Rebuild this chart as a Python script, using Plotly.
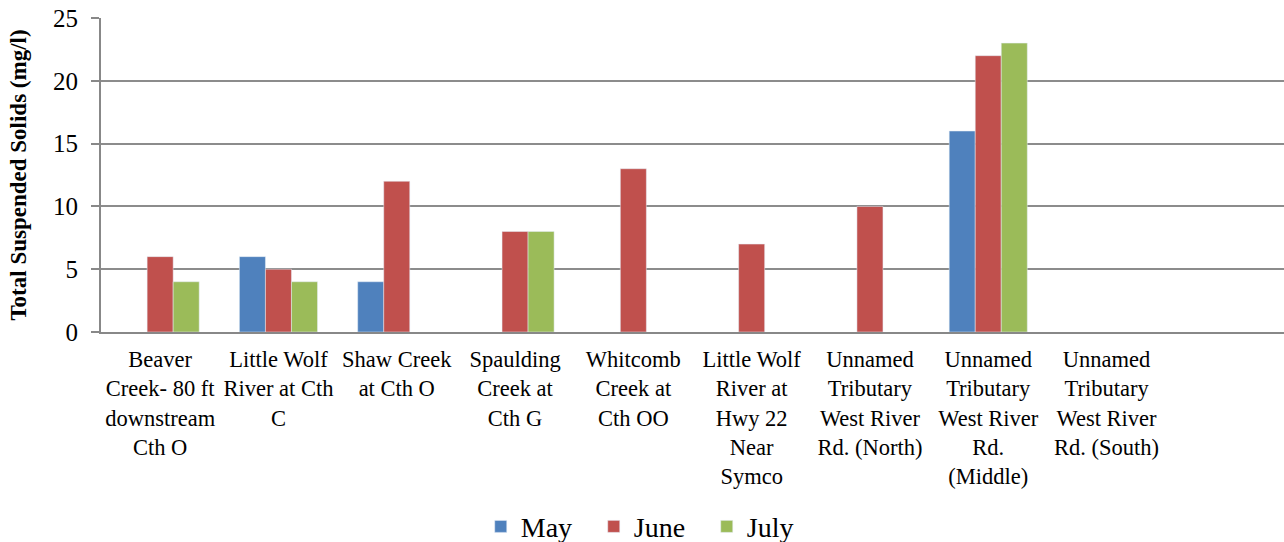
import plotly.graph_objects as go

categories = [
    "Beaver<br>Creek- 80 ft<br>downstream<br>Cth O",
    "Little Wolf<br>River at Cth<br>C",
    "Shaw Creek<br>at Cth O",
    "Spaulding<br>Creek at<br>Cth G",
    "Whitcomb<br>Creek at<br>Cth OO",
    "Little Wolf<br>River at<br>Hwy 22<br>Near<br>Symco",
    "Unnamed<br>Tributary<br>West River<br>Rd. (North)",
    "Unnamed<br>Tributary<br>West River<br>Rd.<br>(Middle)",
    "Unnamed<br>Tributary<br>West River<br>Rd. (South)",
    "",
]
may = [None, 6, 4, None, None, None, None, 16, None, None]
june = [6, 5, 12, 8, 13, 7, 10, 22, None, None]
july = [4, 4, None, 8, None, None, None, 23, None, None]

x = list(range(len(categories)))
font_family = "Times New Roman"

fig = go.Figure()
fig.add_trace(go.Bar(name="May", x=x, y=may, marker_color="#4F81BD"))
fig.add_trace(go.Bar(name="June", x=x, y=june, marker_color="#C0504D"))
fig.add_trace(go.Bar(name="July", x=x, y=july, marker_color="#9BBB59"))

fig.update_layout(
    width=1284, height=542,
    barmode="group", bargap=0.34, bargroupgap=0,
    plot_bgcolor="white", paper_bgcolor="white",
    margin=dict(l=101, r=0, t=18, b=210, autoexpand=False),
    font=dict(family=font_family, color="black"),
    legend=dict(orientation="h", x=0.321, xanchor="left", y=-0.62, yanchor="middle",
                font=dict(size=28, family=font_family), itemwidth=30,
                entrywidth=68, entrywidthmode="pixels", traceorder="normal"),
    showlegend=True,
)
fig.update_xaxes(
    tickmode="array", tickvals=x, ticktext=categories,
    range=[-0.5, len(categories) - 0.5],
    tickangle=0, tickfont=dict(size=22.5, family=font_family),
    showline=True, linecolor="#888888", linewidth=2, showgrid=False,
    ticks="", ticklen=0, ticklabelstandoff=6, automargin=False,
)
fig.update_yaxes(
    range=[0, 25], dtick=5, tickfont=dict(size=25, family=font_family),
    showgrid=True, gridcolor="#8c8c8c", gridwidth=1.5,
    showline=True, linecolor="#888888", linewidth=2,
    ticks="outside", ticklen=8, tickcolor="#888888", tickwidth=1.5,
    ticklabelstandoff=8,
    zeroline=False, automargin=False,
    title=dict(text="<b>Total Suspended Solids (mg/l)</b>", font=dict(size=23, family=font_family), standoff=20),
)

fig.write_html("out.html", post_script="document.body.style.margin='0';",
               config={"displayModeBar": False})
